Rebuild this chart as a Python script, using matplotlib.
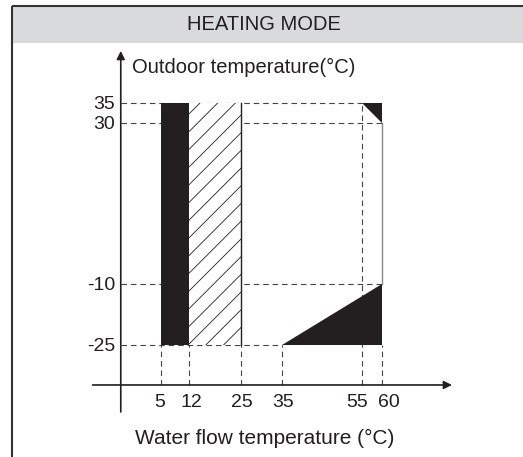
import numpy as np
import matplotlib.pyplot as plt
from matplotlib.patches import Rectangle, Polygon

plt.rcParams['font.family'] = ['Liberation Sans', 'DejaVu Sans']

ink = '#231f20'

# operating range (water flow temp in x, outdoor temp in y)
x_ticks = [5, 12, 25, 35, 55, 60]
x_tick_labels = ['5', '12', '25', '35', '55', '60']
y_ticks = [35, 30, -10, -25]
y_tick_labels = ['35', '30', '-10', '-25']
solid_x = [5, 12]
solid_y = [-25, 35]
hatch_x = [12, 25]
hatch_y = [-25, 35]
corner_x = [55, 60, 60]
corner_y = [35, 35, 30]
wedge_x = [35, 60, 60]
wedge_y = [-25, -25, -10]

fig = plt.figure(figsize=(5.23, 4.57), dpi=100)
ax = fig.add_axes([0, 0, 1, 1])
ax.set_xlim(-35.01, 94.95)
ax.set_ylim(-52.9, 60.67)
ax.axis('off')

# frame and header band
ax.add_patch(Rectangle((-32, 50), 140, 9.2, facecolor='#d9dadb', edgecolor='none', zorder=0))
ax.plot([-32, 100], [59.2, 59.2], color='#333333', lw=1.5, solid_capstyle='butt')
ax.plot([-32, -32], [-60, 59.2], color='#333333', lw=1.5, solid_capstyle='butt')
ax.text(30.6, 53.3, 'HEATING MODE', ha='center', va='baseline', fontsize=14.5, color=ink)

# axes with arrows
y0 = -35
x0 = -5
ax.annotate('', xy=(77.3, y0), xytext=(-12, y0),
            arrowprops=dict(arrowstyle='-|>', lw=1.2, color=ink, mutation_scale=12, shrinkA=0, shrinkB=0))
ax.annotate('', xy=(x0, 48.0), xytext=(x0, -41.7),
            arrowprops=dict(arrowstyle='-|>', lw=1.2, color=ink, mutation_scale=12, shrinkA=0, shrinkB=0))

# dashed guide lines
dash = dict(color='#444444', lw=0.8, ls=(0, (5, 3.5)), zorder=1)
ax.plot([x0, corner_x[0]], [y_ticks[0]] * 2, **dash)
ax.plot([x0, x_ticks[-1]], [y_ticks[1]] * 2, **dash)
ax.plot([x0, x_ticks[-1]], [y_ticks[2]] * 2, **dash)
ax.plot([x0, wedge_x[0]], [y_ticks[3]] * 2, **dash)
for xv in x_ticks:
    top = y_ticks[0] if xv == corner_x[0] else y_ticks[3]
    ax.plot([xv, xv], [y0, top], **dash)
ax.plot([60, 60], [wedge_y[2], corner_y[2]], color='#888888', lw=1.0, zorder=2)

# regions
ax.add_patch(Rectangle((solid_x[0], solid_y[0]), solid_x[1] - solid_x[0], solid_y[1] - solid_y[0],
                       facecolor=ink, edgecolor='none', zorder=3))
hatch_box = Rectangle((hatch_x[0], hatch_y[0]), hatch_x[1] - hatch_x[0], hatch_y[1] - hatch_y[0],
                      facecolor='white', edgecolor='none', zorder=2)
ax.add_patch(hatch_box)
# diagonal hatching, clipped to the box
for c in np.arange(hatch_y[0] - hatch_x[1], hatch_y[1] - hatch_x[0] + 5, 4.4):
    ln, = ax.plot([hatch_x[0], hatch_x[1]], [hatch_x[0] + c, hatch_x[1] + c], color=ink, lw=0.6, zorder=2.5)
    ln.set_clip_path(hatch_box)
ax.plot([hatch_x[1]] * 2, hatch_y, color=ink, lw=1.0, zorder=3)
ax.add_patch(Polygon(list(zip(corner_x, corner_y)), closed=True, facecolor=ink, edgecolor='none', zorder=3))
ax.add_patch(Polygon(list(zip(wedge_x, wedge_y)), closed=True, facecolor=ink, edgecolor='none', zorder=3))

# tick labels
x_shift = [-0.25, 0.6, 0, 0.3, -1.2, 1.7]
for xv, lab, dx in zip(x_ticks, x_tick_labels, x_shift):
    ax.text(xv + dx, -40.5, lab, ha='center', va='baseline', fontsize=14, color=ink)
for yv, lab in zip(y_ticks, y_tick_labels):
    ax.text(-6.4, yv - 1.45, lab, ha='right', va='baseline', fontsize=14, color=ink)

ax.text(-2.2, 42.5, 'Outdoor temperature(°C)', ha='left', va='baseline', fontsize=14.5, color=ink)
ax.text(30.7, -49.7, 'Water flow temperature (°C)', ha='center', va='baseline', fontsize=15, color=ink)

fig.savefig('out.png', dpi=100)
